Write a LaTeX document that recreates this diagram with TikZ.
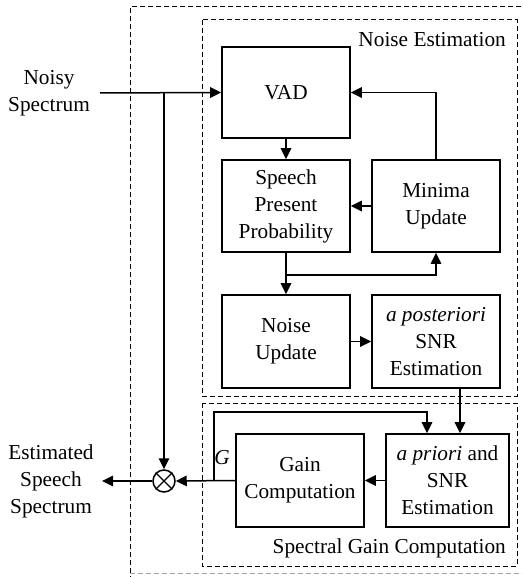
\documentclass[tikz,border=0pt]{standalone}
\usepackage{fontspec}
\setmainfont{Liberation Serif}
\usetikzlibrary{arrows.meta,calc}
\begin{document}
\begin{tikzpicture}[x=1pt,y=-1pt,
  font=\fontsize{21.3}{27}\selectfont,
  blk/.style={draw,line width=1.6pt,minimum width=128pt,minimum height=92pt,align=center,inner sep=2pt},
  lbl/.style={align=center,inner sep=0pt},
  arr/.style={line width=1.5pt,-{Triangle[length=11pt,width=10.5pt]}},
  dbox/.style={draw,line width=1pt,dash pattern=on 5pt off 3pt}]
\useasboundingbox (0,0) rectangle (522,577);
\clip (0,0) rectangle (522,577);
% dashed boxes
\draw[dbox] (545,7) -- (130,7) -- (130,580);
\draw[dbox,black!35] (130,573) -- (545,573);
\draw[dbox] (202,20) rectangle (517,396);
\draw[dbox] (202,403) rectangle (517,566);
\node[lbl,anchor=east] (nelbl) at (506,40) {Noise Estimation};
\node[lbl,anchor=east] (sglbl) at (506,548) {Spectral Gain Computation};
% blocks
\node[blk,minimum height=91pt] (vad) at (286,92.5) {VAD};
\node[blk] (spp) at (286,206) {Speech\\Present\\Probability};
\node[blk] (minima) at (436,206) {Minima\\Update};
\node[blk,minimum height=93pt] (noise) at (286,341.5) {Noise\\Update};
\node[blk,minimum height=93pt] (post) at (436,341.5) {\itshape a posteriori\\SNR\\Estimation};
\node[blk,minimum height=93pt] (gain) at (300,480.5) {Gain\\Computation};
\node[blk,minimum height=93pt,minimum width=123pt] (prior) at (447.5,480.5) {\textit{a priori} and\\SNR\\Estimation};
\node[draw,circle,line width=1.5pt,minimum size=22pt,inner sep=0pt] (mult) at (164,481) {};
\draw[line width=1.2pt] (mult.north east) -- (mult.south west) (mult.north west) -- (mult.south east);
% texts
\node[lbl] (noisy) at (49,93) {Noisy\\Spectrum};
\node[lbl] (est) at (51,481) {Estimated\\Speech\\Spectrum};
\node[lbl,font=\fontsize{21.3}{27}\selectfont\itshape] (G) at (222,458) {G};
% coordinates
\coordinate (in) at (100,93);
\coordinate (br) at (164,93);
\coordinate (out) at (102,481);
\coordinate (g1) at (214,481);
\coordinate (g2) at (214,412);
\coordinate (fx) at (427,0);
\coordinate (px) at (460,0);
\coordinate (j) at (286,275);
% connectors
\draw[arr] (in) -- (vad.west);
\draw[arr] (br) -- (mult.north);
\draw[arr] (mult.west) -- (out);
\draw[arr] (gain.west) -- (mult.east);
\draw[arr] (g1) -- (g2) -| (prior.north -| fx);
\draw[arr] (post.south -| px) -- (prior.north -| px);
\draw[arr] (vad.south) -- (spp.north);
\draw[arr] (minima.north) |- (vad.east);
\draw[arr] (minima.west) -- (spp.east);
\draw[arr] (spp.south) -- (noise.north);
\draw[arr] (j) -| (minima.south);
\draw[arr] (noise.east) -- (post.west);
\draw[arr] (prior.west) -- (gain.east);
\end{tikzpicture}
\end{document}
